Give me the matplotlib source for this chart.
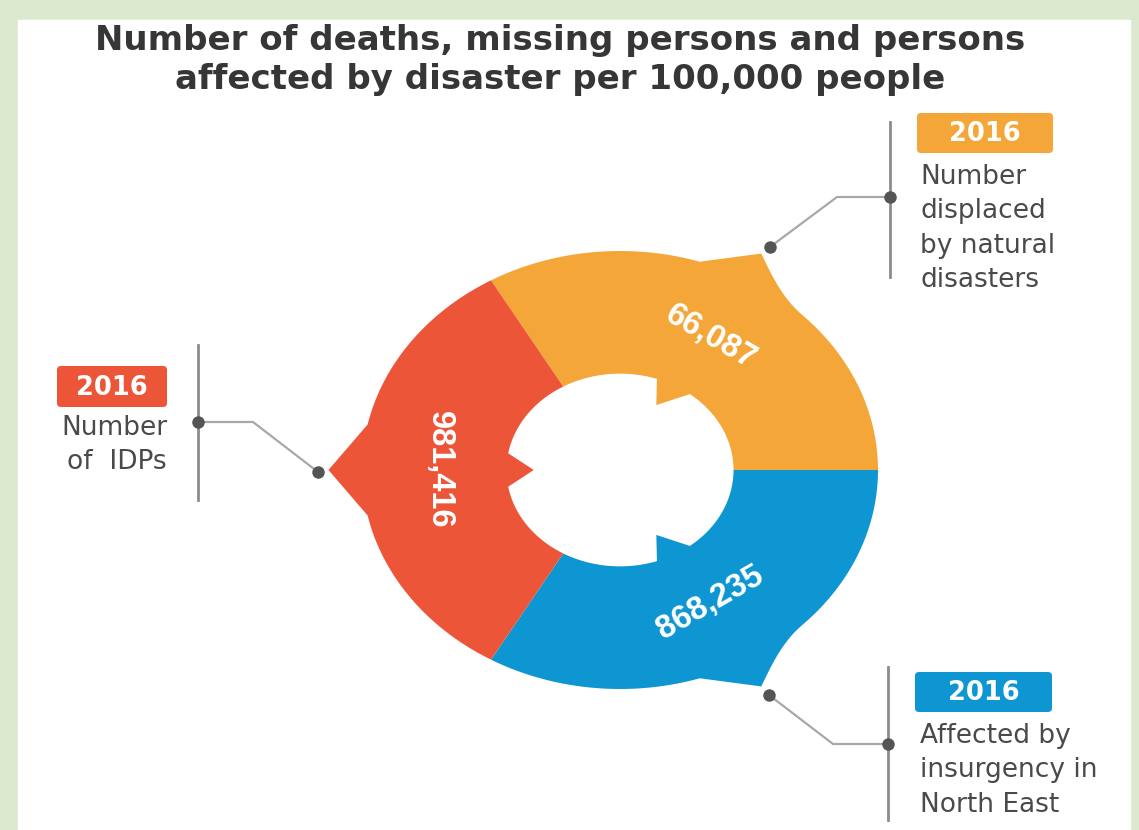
import matplotlib.pyplot as plt
import numpy as np
from matplotlib.patches import Polygon, FancyBboxPatch, Rectangle

title = "Number of deaths, missing persons and persons\naffected by disaster per 100,000 people"
values = ["66,087", "868,235", "981,416"]
years = ["2016", "2016", "2016"]
captions = ["Number\ndisplaced\nby natural\ndisasters",
            "Affected by\ninsurgency in\nNorth East",
            "Number\nof  IDPs"]
colors = ["#F4A638", "#0E96D3", "#EC5538"]
mid_angles = [60, -60, 180]   # middle of each (equal) 120 deg slice

NARROW = "Liberation Sans"
WIDE = "DejaVu Sans"
W, H = 1139, 830
fig = plt.figure(figsize=(W / 100, H / 100), dpi=100)

# annotation layer, pixel coordinates
bg = fig.add_axes([0, 0, 1, 1])
bg.set_xlim(0, W)
bg.set_ylim(H, 0)
bg.axis('off')
bg.add_patch(Rectangle((0, 0), W, H, color="#dce9cf", zorder=0))
bg.add_patch(Rectangle((18, 20), 1112, H, color="white", zorder=0))

bg.text(560, 60, title, ha='center', va='center', fontsize=24.5, fontweight='bold',
        color="#363636", family=WIDE, linespacing=1.25)

# donut layer (unit circle, stretched by the axes box)
cx, cy, rx, ry, pad = 620, 470, 258, 219, 1.3
ax = fig.add_axes([(cx - pad * rx) / W, (H - cy - pad * ry) / H,
                   2 * pad * rx / W, 2 * pad * ry / H])
ax.set_xlim(-pad, pad)
ax.set_ylim(-pad, pad)
ax.axis('off')

R_IN = 0.44


def arc(r, a0, a1, n=60):
    t = np.radians(np.linspace(a0, a1, n))
    return np.column_stack([r * np.cos(t), r * np.sin(t)])


def pt(r, a):
    return arc(r, a, a, 1)


# upper slice with its arrow head; lower slice is its mirror image
s = np.linspace(0, 1, 25)
head = np.column_stack([(1 + 0.13 * s**2) * np.cos(np.radians(45 + 16 * s)),
                        (1 + 0.13 * s**2) * np.sin(np.radians(45 + 16 * s))])
upper = np.vstack([arc(1, 0, 45), head, pt(1, 72), arc(1, 72, 120),
                   arc(R_IN, 120, 71), pt(0.746 * R_IN, 64.6), pt(R_IN, 52),
                   arc(R_IN, 52, 0)])
lower = upper * np.array([1, -1])
left = np.vstack([arc(1, 120, 168), pt(1.13, 180), arc(1, 192, 240),
                  arc(R_IN, 240, 190), pt(0.76 * R_IN, 180), arc(R_IN, 170, 120)])

for shape, c in zip([upper, lower, left], colors):
    ax.add_patch(Polygon(shape, closed=True, facecolor=c, edgecolor='none'))

for val, a in zip(values, mid_angles):
    t = np.radians(a)
    rot = a - 90 if np.sin(t) > 0.01 else a + 90
    ax.text(0.7 * np.cos(t), 0.7 * np.sin(t), val, rotation=rot,
            ha='center', va='center', color='white', fontsize=23.5,
            fontweight='bold', family=NARROW)

# call-outs: box, caption, vertical rule, connector
boxes = [(917, 113, 136, 40), (915, 672, 137, 40), (57, 366, 110, 41)]
cap_pos = [(920, 164, 'left'), (920, 723, 'left'), (167, 415, 'right')]
rules = [(890, 122, 277), (888, 667, 820), (198, 345, 500)]
links = [[(770, 247), (837, 197), (890, 197)],
         [(769, 695), (833, 744), (888, 744)],
         [(318, 472), (253, 422), (198, 422)]]

line_c = "#8c8c8c"
for i in range(3):
    x0, y0, bw, bh = boxes[i]
    bg.add_patch(FancyBboxPatch((x0, y0), bw, bh, boxstyle="round,pad=0,rounding_size=4",
                                facecolor=colors[i], edgecolor='none'))
    bg.text(x0 + bw / 2, y0 + bh / 2 + 1, years[i], ha='center', va='center',
            color='white', fontsize=18.5, fontweight='bold', family=WIDE)
    tx, ty, al = cap_pos[i]
    bg.text(tx, ty, captions[i], ha=al, va='top', color="#4a4a4a", fontsize=19,
            family=WIDE, linespacing=1.42, multialignment=al)
    xr, ya, yb = rules[i]
    bg.plot([xr, xr], [ya, yb], color=line_c, lw=2)
    lx, ly = zip(*links[i])
    bg.plot(lx, ly, color="#a8a8a8", lw=1.6)
    bg.plot([lx[0], lx[-1]], [ly[0], ly[-1]], 'o', color="#555555", ms=9, mec='none')

fig.savefig("out.png", dpi=100)
